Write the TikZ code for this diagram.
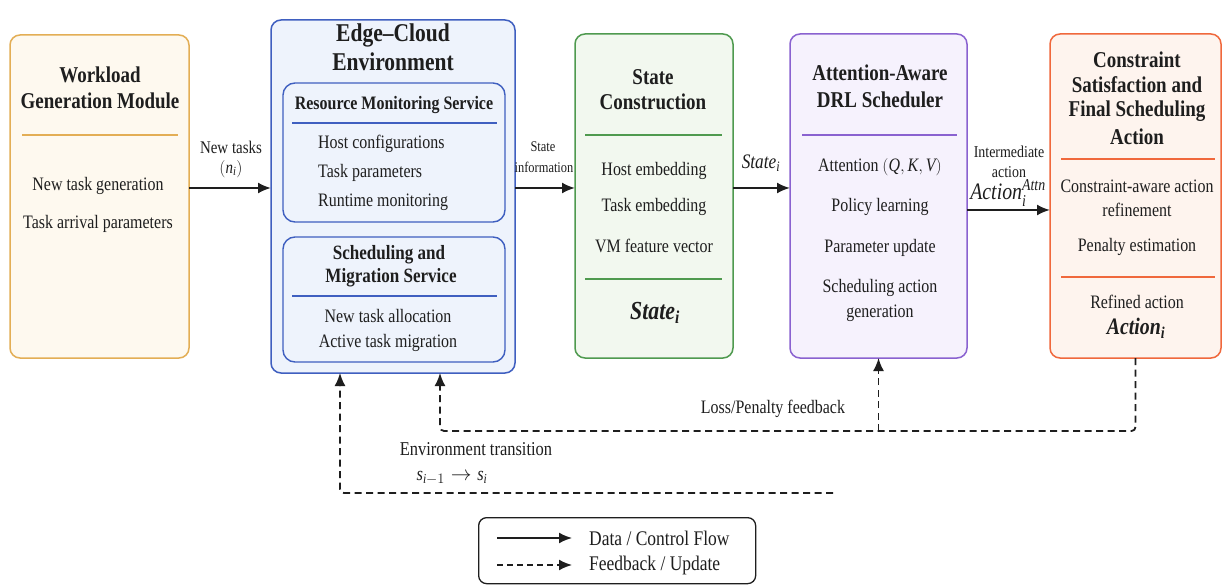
\documentclass[tikz,border=0pt]{standalone}
\usepackage{amsmath}
\usepackage{fontspec}
\setmainfont{Liberation Serif}[FakeStretch=0.84]
\usetikzlibrary{arrows.meta,calc}

\definecolor{ink}{HTML}{1E1E1E}
\definecolor{wlline}{HTML}{E3AE55}
\definecolor{wlfill}{HTML}{FEF9EF}
\definecolor{ecline}{HTML}{3F5FC0}
\definecolor{ecfill}{HTML}{EEF3FC}
\definecolor{scline}{HTML}{4F9A4F}
\definecolor{scfill}{HTML}{F2F8EF}
\definecolor{adline}{HTML}{8A62D0}
\definecolor{adfill}{HTML}{F6F2FD}
\definecolor{csline}{HTML}{F0683C}
\definecolor{csfill}{HTML}{FEF4EE}

\newcommand\sz[1]{\fontsize{#1}{#1}\selectfont}

\tikzset{
  box/.style={draw, rounded corners=10pt, line width=1.5pt, inner sep=0pt,
              outer sep=0pt, anchor=north west},
  subbox/.style={box, rounded corners=12pt, line width=1.4pt},
  sep/.style={line width=1.3pt},
  ttl/.style={font=\sz{22.6}\bfseries, text=ink, inner sep=0pt},
  itm/.style={font=\sz{19}, text=ink, inner sep=0pt},
  lbl/.style={font=\sz{16.6}, text=ink, inner sep=0pt},
  flow/.style={-{Latex[length=13pt,width=11pt]}, line width=2pt, draw=ink},
  fb/.style={-{Latex[length=13pt,width=11pt]}, dash pattern=on 7pt off 4.5pt,
             line width=1.8pt, draw=ink, rounded corners=4pt},
}

\begin{document}
\begin{tikzpicture}[x=1pt,y=-1pt]
\useasboundingbox[fill=white] (0,0) rectangle (1223,585);

% ---------------- Workload generation ----------------
\node[box, draw=wlline, fill=wlfill, minimum width=179pt, minimum height=323pt] (wl) at (10,35) {};
\node[ttl] (wlt1) at (100,75) {Workload};
\node[ttl] (wlt2) at (100,101) {Generation Module};
\draw[sep, wlline] (22,135) -- (178,135);
\node[itm] (wli1) at (98,186) {New task generation};
\node[itm] (wli2) at (98,224) {Task arrival parameters};

% ---------------- Edge-cloud environment ----------------
\node[box, draw=ecline, fill=ecfill, minimum width=244pt, minimum height=353pt] (ec) at (271,20) {};
\node[ttl, font=\sz{25.6}\bfseries] (ect1) at (393,35) {Edge–Cloud};
\node[ttl, font=\sz{25.6}\bfseries] (ect2) at (393,62) {Environment};

\node[subbox, draw=ecline, fill=ecfill, minimum width=222pt, minimum height=139pt] (rm) at (283,83) {};
\node[ttl, font=\sz{19}\bfseries] (rmt) at (394,105) {Resource Monitoring Service};
\draw[sep, ecline] (292,123) -- (497,123);
\node[itm, anchor=west] (rmi1) at (318,144) {Host configurations};
\node[itm, anchor=west] (rmi2) at (318,173) {Task parameters};
\node[itm, anchor=west] (rmi3) at (318,202) {Runtime monitoring};

\node[subbox, draw=ecline, fill=ecfill, minimum width=222pt, minimum height=125pt] (sm) at (283,237) {};
\node[ttl, font=\sz{20.3}\bfseries] (smt1) at (389,255) {Scheduling and};
\node[ttl, font=\sz{20.3}\bfseries] (smt2) at (391,278) {Migration Service};
\draw[sep, ecline] (292,296) -- (497,296);
\node[itm] (smi1) at (388,316) {New task allocation};
\node[itm] (smi2) at (388,343) {Active task migration};

% ---------------- State construction ----------------
\node[box, draw=scline, fill=scfill, minimum width=158pt, minimum height=324pt] (sc) at (575,34) {};
\node[ttl] (sct1) at (653,77) {State};
\node[ttl] (sct2) at (653,102) {Construction};
\draw[sep, scline] (585,135) -- (722,135);
\node[itm] (sci1) at (654,171) {Host embedding};
\node[itm] (sci2) at (654,207) {Task embedding};
\node[itm] (sci3) at (654,246) {VM feature vector};
\draw[sep, scline] (585,279) -- (722,279);
\node[ttl, font=\sz{26}\bfseries\itshape] (sco) at (655,313) {State\textsubscript{\textit{i}}};

% ---------------- Attention-aware DRL scheduler ----------------
\node[box, draw=adline, fill=adfill, minimum width=177pt, minimum height=324pt] (ad) at (790,34) {};
\node[ttl] (adt1) at (880,73) {Attention-Aware};
\node[ttl] (adt2) at (880,100) {DRL Scheduler};
\draw[sep, adline] (802,135) -- (957,135);
\node[itm] (adi1) at (880,167) {Attention $(\textit{Q}, \textit{K}, \textit{V})$};
\node[itm] (adi2) at (880,207) {Policy learning};
\node[itm] (adi3) at (880,248) {Parameter update};
\node[itm] (adi4) at (880,288) {Scheduling action};
\node[itm] (adi5) at (880,313) {generation};

% ---------------- Constraint satisfaction ----------------
\node[box, draw=csline, fill=csfill, minimum width=171pt, minimum height=324pt] (cs) at (1050,34) {};
\node[ttl] (cst1) at (1137,60) {Constraint};
\node[ttl] (cst2) at (1137,85) {Satisfaction and};
\node[ttl] (cst3) at (1137,111) {Final Scheduling};
\node[ttl] (cst4) at (1137,137) {Action};
\draw[sep, csline] (1061,159) -- (1215,159);
\node[itm] (csi1) at (1137,186) {Constraint-aware action};
\node[itm] (csi2) at (1137,210) {refinement};
\node[itm] (csi3) at (1137,247) {Penalty estimation};
\draw[sep, csline] (1061,277) -- (1215,277);
\node[itm] (csi4) at (1137,302) {Refined action};
\node[ttl, font=\sz{23.6}\bfseries\itshape] (cso) at (1136,328) {Action\textsubscript{\textit{i}}};

% ---------------- Forward data / control flow ----------------
\coordinate (y1) at (0,188);
\coordinate (y2) at (0,210);
\draw[flow] (wl.east |- y1) -- (ec.west |- y1);
\node[lbl, font=\sz{17.8}] (l1a) at (231,147) {New tasks};
\node[lbl, font=\sz{17.8}] (l1b) at (231,169) {$(\textit{n}_{\textit{i}})$};

\draw[flow] (ec.east |- y1) -- (sc.west |- y1);
\node[lbl, font=\sz{14.8}] (l2a) at (543,147) {State};
\node[lbl, font=\sz{14.8}] (l2b) at (544,167) {information};

\draw[flow] (sc.east |- y1) -- (ad.west |- y1);
\node[lbl, font=\sz{20.6}\itshape] (l3) at (761,163) {State\textsubscript{\textit{i}}};

\draw[flow] (ad.east |- y2) -- (cs.west |- y2);
\node[lbl] (l4a) at (1009,152) {Intermediate};
\node[lbl] (l4b) at (1009,172) {action};
\node[lbl, font=\sz{23.6}] (l4c) at (1008,193) {$\textit{Action}_{\textit{i}}^{\textit{Attn}}$};

% ---------------- Feedback paths ----------------
\coordinate (lossy) at (0,431);
\coordinate (envy) at (0,493);
\coordinate (ecA) at (340,373);
\coordinate (ecB) at (440,373);
\coordinate (envend) at (833,493);
\draw[fb] (cs.south) -- (cs.south |- lossy) -- (ecB |- lossy) -- (ecB);
\draw[fb, rounded corners=0pt] (ad.south |- lossy) -- (ad.south);
\node[itm] (lossl) at (773,409) {Loss/Penalty feedback};

\draw[fb] (envend) -- (ecA |- envy) -- (ecA);
\node[itm, font=\sz{19.6}] (envl1) at (476,449) {Environment transition};
\node[itm, font=\sz{19.6}] (envl2) at (452,478) {$\textit{s}_{\textit{i}-1}\rightarrow\textit{s}_{\textit{i}}$};

% ---------------- Legend ----------------
\node[draw=ink, line width=1.3pt, rounded corners=8pt, anchor=north west, inner sep=0pt,
      minimum width=277pt, minimum height=66pt] (leg) at (478,517) {};
\coordinate (lg1a) at (497,538);
\coordinate (lg1b) at (572,538);
\coordinate (lg2a) at (497,565);
\coordinate (lg2b) at (572,565);
\draw[flow, line width=1.8pt] (lg1a) -- (lg1b);
\draw[fb, dash pattern=on 6pt off 4pt] (lg2a) -- (lg2b);
\node[itm, font=\sz{20.8}, anchor=west] (lgt1) at (589,538) {Data / Control Flow};
\node[itm, font=\sz{20.8}, anchor=west] (lgt2) at (589,565) {Feedback / Update};
\end{tikzpicture}
\end{document}
